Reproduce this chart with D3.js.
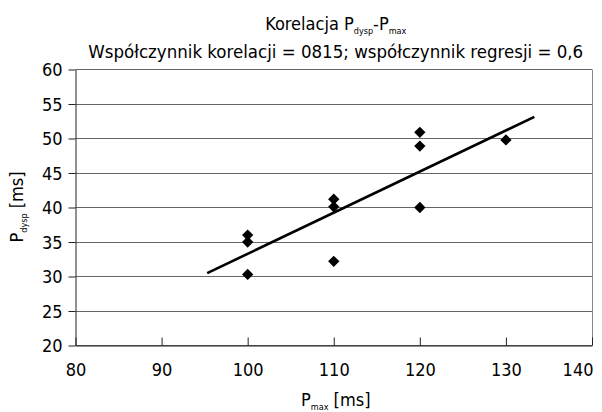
<!DOCTYPE html>
<html>
<head>
<meta charset="utf-8">
<script src="https://cdn.jsdelivr.net/npm/d3@7"></script>
<style>
  body { margin: 0; background: #fff; }
  svg text { font-family: "Liberation Sans Narrow", "DejaVu Sans Condensed", "Roboto", sans-serif; fill: #000; }
</style>
</head>
<body>
<div class="canvas"></div>
<script>
// Data
const pMax = [100, 100, 100, 110, 110, 110, 120, 120, 120, 130]
const pDysp = [36, 35, 30.3, 41.2, 40.1, 32.2, 50.9, 48.9, 40, 49.8]
const xTicks = [80, 90, 100, 110, 120, 130, 140]
const yTicks = [20, 25, 30, 35, 40, 45, 50, 55, 60]
const trendRange = [95.3, 133.3]

const width = 602
const height = 412

const svg = d3.select('.canvas')
  .append('svg')
  .attr('width', width)
  .attr('height', height)

// Margins and dimensions
const margin = { top: 69, right: 10, bottom: 67, left: 75.5 }
const graphWidth = width - margin.left - margin.right
const graphHeight = height - margin.top - margin.bottom

const graph = svg.append('g')
  .attr('transform', `translate(${margin.left}, ${margin.top + 0.5})`)

// Scales
const x = d3.scaleLinear()
  .domain([80, 140])
  .range([0, graphWidth])

const y = d3.scaleLinear()
  .domain([20, 60])
  .range([graphHeight, 0])

// Gridlines
graph.append('g')
  .selectAll('line')
  .data(yTicks)
  .enter()
  .append('line')
  .attr('x1', 0)
  .attr('x2', graphWidth)
  .attr('y1', d => Math.round(y(d)))
  .attr('y2', d => Math.round(y(d)))
  .attr('stroke', '#666')
  .attr('stroke-width', 1)

// right border
graph.append('line')
  .attr('x1', Math.round(graphWidth))
  .attr('x2', Math.round(graphWidth))
  .attr('y1', 0)
  .attr('y2', graphHeight)
  .attr('stroke', '#888')

// Axes
const xAxis = d3.axisBottom(x)
  .tickValues(xTicks)
  .tickSizeInner(-8)
  .tickSizeOuter(0)
  .tickPadding(18)

const yAxis = d3.axisLeft(y)
  .tickValues(yTicks)
  .tickSizeInner(7)
  .tickSizeOuter(0)
  .tickPadding(6)

const xAxisGroup = graph.append('g')
  .attr('transform', `translate(0, ${Math.round(graphHeight)})`)
  .call(xAxis)

const yAxisGroup = graph.append('g')
  .call(yAxis)

xAxisGroup.select('.domain').attr('stroke', '#222')
yAxisGroup.select('.domain').attr('stroke', '#222')
xAxisGroup.selectAll('line').attr('stroke', '#222')
yAxisGroup.selectAll('line').attr('stroke', '#222')
xAxisGroup.selectAll('text')
  .attr('font-size', 18)
  .attr('fill', '#000')
// last label kept inside the chart, like the original
xAxisGroup.selectAll('text')
  .filter(d => d === xTicks[xTicks.length - 1])
  .attr('text-anchor', 'end')
  .attr('x', 1)
yAxisGroup.selectAll('text')
  .attr('font-size', 18)
  .attr('dy', '0.36em')
  .attr('fill', '#000')

// Trendline (least squares fit)
const n = pMax.length
const mx = d3.mean(pMax)
const my = d3.mean(pDysp)
let sxy = 0, sxx = 0
for (let i = 0; i < n; i++) {
  sxy += (pMax[i] - mx) * (pDysp[i] - my)
  sxx += (pMax[i] - mx) * (pMax[i] - mx)
}
const slope = sxy / sxx
const intercept = my - slope * mx

graph.append('line')
  .attr('x1', x(trendRange[0]))
  .attr('y1', y(slope * trendRange[0] + intercept))
  .attr('x2', x(trendRange[1]))
  .attr('y2', y(slope * trendRange[1] + intercept))
  .attr('stroke', '#000')
  .attr('stroke-width', 2.6)

// Points (diamonds)
const diamond = d3.symbol().type(d3.symbolSquare).size(64)
graph.selectAll('path.point')
  .data(pMax)
  .enter()
  .append('path')
  .attr('class', 'point')
  .attr('d', diamond)
  .attr('transform', (d, i) => `translate(${x(d)}, ${y(pDysp[i])}) rotate(45)`)
  .attr('fill', '#000')

// Title
const cx = margin.left + graphWidth / 2 + 2
const title = svg.append('text')
  .attr('x', cx)
  .attr('y', 30)
  .attr('text-anchor', 'middle')
  .attr('font-size', 18)
title.append('tspan').text('Korelacja P')
title.append('tspan').attr('font-size', 9).attr('dy', 4).text('dysp')
title.append('tspan').attr('dy', -4).text('-P')
title.append('tspan').attr('font-size', 9).attr('dy', 4).text('max')

svg.append('text')
  .attr('x', cx)
  .attr('y', 58)
  .attr('text-anchor', 'middle')
  .attr('font-size', 18.5)
  .text('Współczynnik korelacji = 0815; współczynnik regresji = 0,6')

// x-axis label
const xLabel = svg.append('text')
  .attr('x', cx)
  .attr('y', 406)
  .attr('text-anchor', 'middle')
  .attr('font-size', 18)
xLabel.append('tspan').text('P')
xLabel.append('tspan').attr('font-size', 9).attr('dy', 4).text('max')
xLabel.append('tspan').attr('dy', -4).text(' [ms]')

// y-axis label
const yLabel = svg.append('text')
  .attr('transform', `translate(23, ${margin.top + graphHeight / 2}) rotate(-90)`)
  .attr('text-anchor', 'middle')
  .attr('font-size', 18)
yLabel.append('tspan').text('P')
yLabel.append('tspan').attr('font-size', 9).attr('dy', 4).text('dysp')
yLabel.append('tspan').attr('dy', -4).text(' [ms]')
</script>
</body>
</html>
